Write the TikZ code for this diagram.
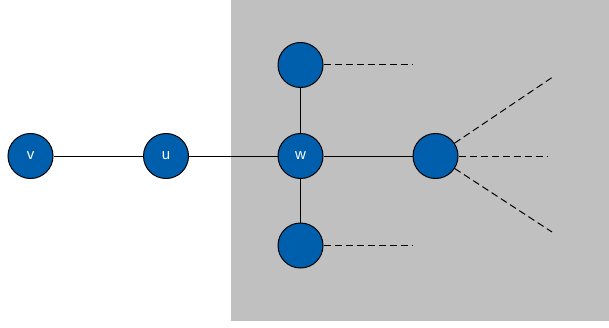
\documentclass[tikz,border=0pt]{standalone}
\usepackage{fontspec}
\setmainfont{Liberation Sans}
\definecolor{nodeblue}{HTML}{005FAD}
\definecolor{bggray}{HTML}{C0C0C0}
\begin{document}
\begin{tikzpicture}[x=1pt,y=1pt,
  vtx/.style={circle,draw=black,line width=1pt,fill=nodeblue,minimum size=45pt,inner sep=0pt,text=white,font=\fontsize{15}{15}\selectfont},
  edge/.style={line width=1pt,draw=black},
  dedge/.style={line width=1pt,draw=black,dash pattern=on 7pt off 4pt}]
\useasboundingbox (0,0) rectangle (609,327);
\fill[bggray] (231,6) rectangle (609,327);
\node[vtx] (v) at (30.5,171) {v};
\node[vtx] (u) at (166,171) {u};
\node[vtx] (w) at (300.5,171) {w};
\node[vtx] (t) at (300.5,262) {};
\node[vtx] (b) at (300.5,81.5) {};
\node[vtx] (r) at (435.5,171) {};
\coordinate (te) at (413,262);
\coordinate (be) at (413,81.5);
\coordinate (rm) at (548,171);
\coordinate (ru) at (552,249.5);
\coordinate (rd) at (552,95);
\draw[edge] (v) -- (u);
\draw[edge] (u) -- (w);
\draw[edge] (w) -- (r);
\draw[edge] (w) -- (t);
\draw[edge] (w) -- (b);
\draw[dedge] (t) -- (te);
\draw[dedge] (b) -- (be);
\draw[dedge] (r) -- (rm);
\draw[dedge] (r) -- (ru);
\draw[dedge] (r) -- (rd);
\end{tikzpicture}
\end{document}
